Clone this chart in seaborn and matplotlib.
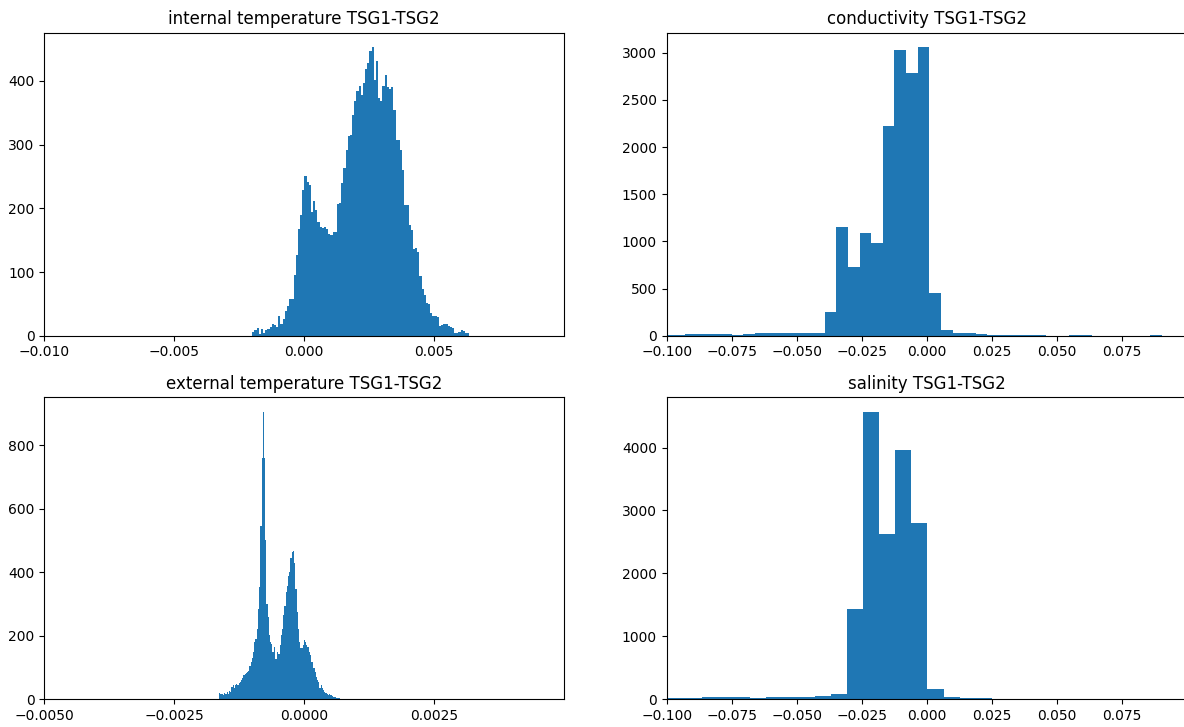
import numpy as np
import seaborn as sns
from matplotlib import pyplot as plt

# histogram counts (one value per bin)
int_temp_range = (-0.002, 0.006346)
int_temp_counts = [6, 9, 12, 3, 10, 5, 9, 10, 13, 19, 17, 13, 31, 19, 26, 39, 47, 57, 57,
                   95, 126, 167, 189, 228, 251, 242, 237, 195, 212, 198, 178, 171, 169, 170,
                   167, 160, 158, 163, 163,
                   207, 209, 240, 263, 292, 314, 315, 347, 368, 384, 392, 378, 397, 418,
                   428, 447, 453,
                   402, 432, 373, 368, 392, 409, 390, 388, 390, 355, 308, 308, 292, 260,
                   205, 205, 174, 166, 136, 138, 132,
                   94, 74, 64, 51, 50, 36, 31, 31, 30, 15, 17, 18, 18, 16, 14, 12, 5, 4,
                   6, 9, 8, 5, 4]

cond_range = (-0.10181, 0.10381)
cond_counts = [10, 12, 15, 20, 15, 15, 12, 20, 25, 25, 30, 25, 25, 30,
               247, 1158, 724, 1094, 985, 2224, 3035, 2788, 3060,
               450, 60, 30, 25, 20, 5, 3, 12, 3, 3, 2, 2, 4, 8, 2, 1, 1, 1, 1, 3, 1, 1, 1]

ext_temp_range = (-0.001635, 0.000686)
ext_temp_counts = [20, 17, 18, 15, 20, 18, 22, 16, 25, 22,
                   40, 45, 36, 44, 48, 46, 52, 55, 60, 66,
                   75, 80, 84, 86, 90, 105, 118, 130, 150, 180,
                   190, 222, 285, 352, 545, 760, 905, 760, 500, 300,
                   259, 201, 180, 175, 149, 165, 128, 128, 149, 144,
                   170, 201, 222, 264, 295, 337, 358, 389, 399, 446,
                   462, 467, 430, 347, 274, 222, 180, 160, 160,
                   170, 186, 180, 170, 165, 149, 139, 118, 118, 100,
                   86, 71, 60, 55, 36, 45, 34, 29, 24, 21,
                   17, 14, 16, 14, 10, 8, 8, 6, 5, 4, 3]

sal_range = (-0.1051, 0.1057)
sal_counts = [20, 20, 20, 30, 30, 30, 15, 35, 30, 35, 60, 84,
              1440, 4570, 2620, 3954, 2800,
              170, 30, 20, 15, 12, 5, 4, 3, 3, 1, 1, 1, 1, 1, 1, 1, 1]

titles = ["internal temperature TSG1-TSG2", "conductivity TSG1-TSG2",
          "external temperature TSG1-TSG2", "salinity TSG1-TSG2"]


def bin_centers(rng, n):
    edges = np.linspace(rng[0], rng[1], n + 1)
    return (edges[:-1] + edges[1:]) / 2


def draw_hist(ax, rng, counts, title, xlim, xticks):
    n = len(counts)
    sns.histplot(x=bin_centers(rng, n), weights=counts, bins=n, binrange=rng, ax=ax,
                 color="#1f77b4", alpha=1, linewidth=0)
    ax.set_title(title, fontsize=12)
    ax.set_xlim(xlim)
    ax.set_xticks(xticks)
    ax.set_ylabel("")
    ax.set_xlabel("")


fig = plt.figure(figsize=(11.84, 7.27), dpi=100)
ax1 = fig.add_axes([0.0374, 0.5382, 0.4392, 0.4168])
ax2 = fig.add_axes([0.5631, 0.5382, 0.4392, 0.4168])
ax3 = fig.add_axes([0.0374, 0.0381, 0.4392, 0.4154])
ax4 = fig.add_axes([0.5631, 0.0381, 0.4392, 0.4154])

draw_hist(ax1, int_temp_range, int_temp_counts, titles[0], (-0.01, 0.01),
          [-0.01, -0.005, 0.0, 0.005])
draw_hist(ax2, cond_range, cond_counts, titles[1], (-0.1, 0.1),
          [-0.1, -0.075, -0.05, -0.025, 0.0, 0.025, 0.05, 0.075])
draw_hist(ax3, ext_temp_range, ext_temp_counts, titles[2], (-0.005, 0.005),
          [-0.005, -0.0025, 0.0, 0.0025])
draw_hist(ax4, sal_range, sal_counts, titles[3], (-0.1, 0.1),
          [-0.1, -0.075, -0.05, -0.025, 0.0, 0.025, 0.05, 0.075])

fig.savefig("out.png", dpi=100)
